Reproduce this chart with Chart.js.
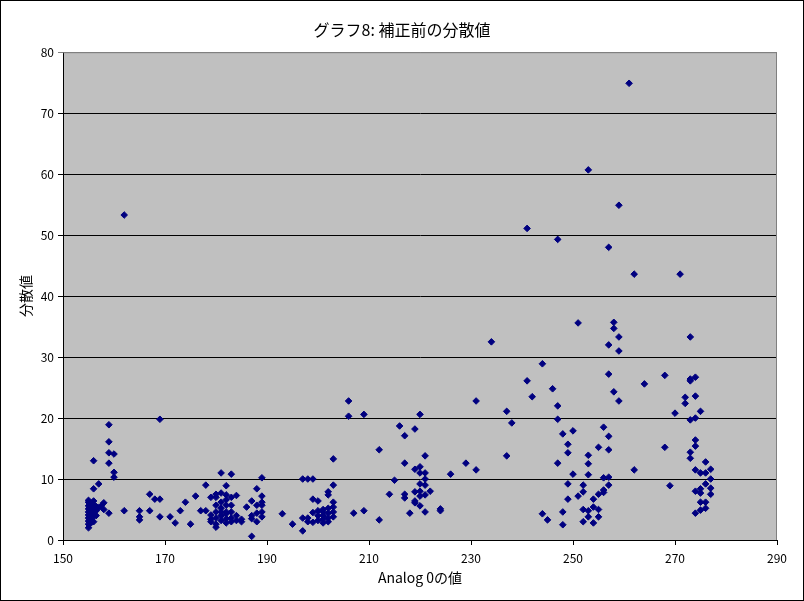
<!DOCTYPE html>
<html>
<head>
<meta charset="utf-8">
<script src="https://cdn.jsdelivr.net/npm/chart.js@4"></script>
<style>
html,body{margin:0;padding:0;background:#fff}
</style>
</head>
<body>
<canvas id="chart1" width="804" height="601"></canvas>
<script>
// Analog 0 values (x), and the variance values read at each of them (y)
var analogGroups = [155, 155.5, 156, 156.5, 157, 157.5, 158, 159, 160, 162,
	165, 167, 168, 169, 171, 172, 173, 174, 175, 176, 177, 178, 179, 180,
	181, 182, 183, 184, 185, 186, 187, 188, 189,
	193, 195, 197, 198, 199, 200, 201, 202, 203,
	206, 207, 209, 212, 214, 215, 216, 217, 218, 219, 220, 221, 222, 224, 226, 229,
	231, 234, 237, 238, 241, 242, 244, 245, 246, 247, 248, 249, 250,
	251, 252, 253, 254, 255, 256, 257, 258, 259, 261, 262, 264,
	268, 269, 270, 271, 272, 273, 274, 275, 276, 277];
var varianceByGroup = [
	[2.0, 2.6, 3.1, 3.6, 4.1, 4.6, 5.1, 5.6, 6.2, 6.5],
	[2.8, 3.4, 4.3, 4.9, 5.4, 6.0],
	[3.0, 3.9, 4.5, 5.2, 5.8, 6.4, 8.4, 13.0],
	[4.0, 4.8, 5.5],
	[5.3, 9.2],
	[5.6],
	[5.0, 6.1],
	[4.4, 12.6, 14.3, 16.1, 18.9],
	[10.3, 11.1, 14.1],
	[4.8, 53.3],
	[3.3, 3.8, 4.8],
	[4.8, 7.5],
	[6.7],
	[3.8, 6.7, 19.8],
	[3.8],
	[2.8],
	[4.8],
	[6.2],
	[2.6],
	[7.2],
	[4.8],
	[4.8, 9.0],
	[3.0, 3.4, 4.1, 7.0],
	[2.1, 2.6, 3.6, 4.6, 5.7, 7.0, 7.5],
	[3.2, 4.0, 4.6, 5.2, 6.2, 7.7, 11.0],
	[2.8, 3.5, 4.3, 4.6, 5.7, 6.6, 7.4, 8.9],
	[3.0, 3.6, 4.6, 5.7, 7.0, 10.8],
	[3.2, 4.0, 7.3],
	[3.0, 3.4],
	[5.4],
	[0.6, 3.5, 4.0, 6.4],
	[3.0, 4.4, 5.7, 8.4],
	[3.8, 4.6, 5.7, 6.2, 7.2, 10.2],
	[4.3],
	[2.6],
	[1.5, 3.6, 10.0],
	[3.0, 3.6, 10.0],
	[2.9, 4.5, 6.7, 10.0],
	[3.2, 4.0, 4.8, 6.4],
	[2.8, 3.4, 4.0, 4.6, 5.0],
	[3.0, 3.6, 4.4, 5.2, 7.4, 7.9],
	[3.8, 4.6, 5.4, 6.2, 9.0, 13.3],
	[20.3, 22.8],
	[4.4],
	[4.8, 20.6],
	[3.3, 14.8],
	[7.5],
	[9.8],
	[18.7],
	[6.9, 7.5, 12.6, 17.1],
	[4.4],
	[6.1, 6.4, 7.9, 11.6, 18.2],
	[5.6, 7.2, 8.0, 9.2, 11.0, 12.0, 20.6],
	[4.6, 7.4, 9.0, 10.0, 11.0, 13.8],
	[8.0],
	[4.8, 5.1],
	[10.8],
	[12.6],
	[11.5, 22.8],
	[32.5],
	[13.8, 21.1],
	[19.2],
	[26.1, 51.1],
	[23.5],
	[4.3, 28.9],
	[3.3],
	[24.8],
	[12.6, 19.8, 22.0, 49.3],
	[2.5, 4.6, 17.4],
	[6.7, 9.2, 14.3, 15.7],
	[10.8, 17.9],
	[7.2, 35.6],
	[3.0, 5.0, 7.9, 9.0],
	[3.8, 4.8, 10.7, 12.5, 13.9, 60.7],
	[2.8, 5.4, 6.7],
	[3.8, 5.0, 7.5, 15.2],
	[7.8, 8.2, 10.2, 18.5],
	[9.0, 10.3, 14.8, 17.0, 27.2, 32.0, 48.0],
	[24.3, 34.7, 35.7],
	[22.8, 31.0, 33.3, 54.9],
	[74.9],
	[11.5, 43.6],
	[25.6],
	[15.2, 27.0],
	[8.9],
	[20.8],
	[43.6],
	[22.4, 23.4],
	[13.4, 14.4, 19.7, 26.1, 26.4, 33.3],
	[4.4, 8.0, 11.5, 15.4, 16.4, 20.0, 23.6, 26.7],
	[4.9, 6.2, 7.7, 8.4, 11.0, 21.1],
	[5.2, 6.2, 9.2, 11.0, 12.8],
	[7.5, 8.5, 10.0, 11.6]
];
var xTicks = [150, 170, 190, 210, 230, 250, 270, 290];
var yTicks = [0, 10, 20, 30, 40, 50, 60, 70, 80];

var points = [];
for (var i in analogGroups) {
	for (var j in varianceByGroup[i]) {
		points.push({x: analogGroups[i], y: varianceByGroup[i][j]});
	}
}

// 背景・プロットエリア・外枠
var framePlugin = {
	id: 'frame',
	beforeDraw: function (chart) {
		var c = chart.ctx, a = chart.chartArea;
		c.save();
		c.fillStyle = '#ffffff';
		c.fillRect(0, 0, chart.width, chart.height);
		c.fillStyle = '#c0c0c0';
		c.fillRect(a.left, a.top, a.right - a.left, a.bottom - a.top);
		c.restore();
	},
	afterDraw: function (chart) {
		var c = chart.ctx, a = chart.chartArea;
		c.save();
		c.strokeStyle = '#808080';
		c.lineWidth = 1;
		c.beginPath();
		c.moveTo(a.left, a.top + 0.5);
		c.lineTo(a.right - 0.5, a.top + 0.5);
		c.lineTo(a.right - 0.5, a.bottom);
		c.stroke();
		c.strokeStyle = '#000000';
		c.strokeRect(0.5, 0.5, chart.width - 1, chart.height - 1);
		c.restore();
	}
};

Chart.defaults.font.family = '"Noto Sans CJK JP", "Noto Sans", sans-serif';
Chart.defaults.color = '#000';

var ctx1 = document.getElementById("chart1").getContext("2d");
window.myScatter = new Chart(ctx1, {
	type: 'scatter',
	data: {
		datasets: [{
			label: '分散値',
			data: points,
			pointStyle: 'rectRot',
			pointRadius: 3.3,
			pointBackgroundColor: '#000080',
			pointBorderColor: '#000080',
			pointBorderWidth: 1
		}]
	},
	options: {
		responsive: false,
		animation: false,
		layout: {padding: 0},
		plugins: {
			legend: {display: false},
			tooltip: {enabled: false},
			title: {
				display: true,
				text: 'グラフ8: 補正前の分散値',
				color: '#000',
				font: {size: 16, weight: 'normal'},
				padding: {top: 20, bottom: 13}
			}
		},
		scales: {
			x: {
				type: 'linear',
				min: 150,
				max: 290,
				afterBuildTicks: function (s) { s.ticks = xTicks.map(function (v) { return {value: v}; }); },
				afterFit: function (s) { s.height = 61; s.paddingRight = 27; },
				ticks: {color: '#000', font: {size: 12}, padding: 6, maxRotation: 0},
				grid: {drawOnChartArea: false, drawTicks: true, tickLength: 5, color: '#000'},
				border: {color: '#000', width: 1},
				title: {display: true, text: 'Analog 0の値', color: '#000', font: {size: 14}, padding: {top: 0, bottom: 15}}
			},
			y: {
				min: 0,
				max: 80,
				afterBuildTicks: function (s) { s.ticks = yTicks.map(function (v) { return {value: v}; }); },
				afterFit: function (s) { s.width = 63; },
				ticks: {color: '#000', font: {size: 12}, padding: 4},
				grid: {
					drawTicks: true,
					tickLength: 5,
					color: function (c) { return c.tick && c.tick.value === 80 ? '#808080' : '#000'; }
				},
				border: {color: '#000', width: 1},
				title: {display: true, text: '分散値', color: '#000', font: {size: 14}, padding: {top: 17, bottom: 0}}
			}
		}
	},
	plugins: [framePlugin]
});
</script>
</body>
</html>
